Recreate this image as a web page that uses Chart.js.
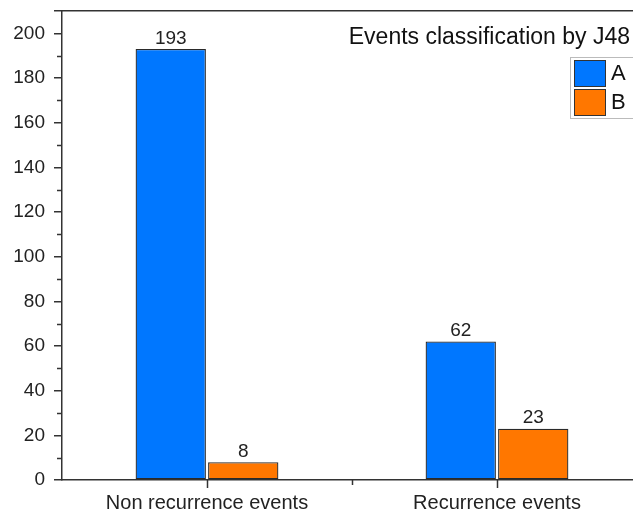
<!DOCTYPE html>
<html>
<head>
<meta charset="utf-8">
<script src="https://cdn.jsdelivr.net/npm/chart.js@4"></script>
<style>
  html, body { margin: 0; padding: 0; overflow: hidden; background: #fff; }
  #wrap { width: 650px; height: 516px; }
</style>
</head>
<body>
<div id="wrap"><canvas id="chart" width="650" height="516"></canvas></div>
<script>
// chart data
const categories = ['Non recurrence events', 'Recurrence events']
const seriesA = [193, 62]
const seriesB = [8, 23]
const titleText = 'Events classification by J48'

Chart.defaults.font.family = '"Liberation Sans", Arial, sans-serif'
Chart.defaults.color = '#222222'

const axisColor = '#333333'

// value labels on top of bars, title, legend box and x/minor ticks
const extras = {
    id: 'extras',
    afterDatasetsDraw(chart) {
        const ctx = chart.ctx
        const area = chart.chartArea
        const y = chart.scales.y
        const x = chart.scales.x
        ctx.save()
        ctx.fillStyle = '#222'
        ctx.font = '19px "Liberation Sans", Arial, sans-serif'
        ctx.textAlign = 'center'
        ctx.textBaseline = 'bottom'
        chart.data.datasets.forEach((ds, i) => {
            chart.getDatasetMeta(i).data.forEach((bar, j) => {
                ctx.fillText(ds.data[j], bar.x, bar.y - 1)
            })
        })

        // ticks
        ctx.strokeStyle = axisColor
        ctx.lineWidth = 1.5
        for (let v = 10; v <= 200; v += 20) {
            const py = Math.round(y.getPixelForValue(v)) + 0.5
            ctx.beginPath()
            ctx.moveTo(area.left - 5, py)
            ctx.lineTo(area.left, py)
            ctx.stroke()
        }
        for (let k = 0; k < categories.length; k++) {
            const pc = Math.round(x.getPixelForValue(k)) + 0.5
            ctx.beginPath()
            ctx.moveTo(pc, area.bottom)
            ctx.lineTo(pc, area.bottom + 8)
            ctx.stroke()
            const pm = Math.round(x.getPixelForValue(k + 0.5)) + 0.5
            ctx.beginPath()
            ctx.moveTo(pm, area.bottom)
            ctx.lineTo(pm, area.bottom + 5)
            ctx.stroke()
        }

        // title
        ctx.font = '23px "Liberation Sans", Arial, sans-serif'
        ctx.textAlign = 'right'
        ctx.textBaseline = 'middle'
        ctx.fillStyle = '#111'
        ctx.fillText(titleText, 630, 38)

        // legend
        const lx = 570, ly = 57, lw = 70, lh = 61
        ctx.fillStyle = '#fff'
        ctx.fillRect(lx, ly, lw, lh)
        ctx.strokeStyle = '#bbbbbb'
        ctx.lineWidth = 1
        ctx.strokeRect(lx + 0.5, ly + 0.5, lw, lh)
        chart.data.datasets.forEach((ds, i) => {
            const by = ly + 3 + i * 29
            ctx.fillStyle = ds.backgroundColor
            ctx.fillRect(lx + 4, by, 32, 27)
            ctx.strokeStyle = '#333'
            ctx.strokeRect(lx + 4.5, by + 0.5, 31, 26)
            ctx.fillStyle = '#111'
            ctx.font = '22px "Liberation Sans", Arial, sans-serif'
            ctx.textAlign = 'left'
            ctx.fillText(ds.label, lx + 41, by + 14)
        })
        ctx.restore()
    }
}

new Chart(document.getElementById('chart'), {
    type: 'bar',
    data: {
        labels: categories,
        datasets: [
            {
                label: 'A',
                data: seriesA,
                backgroundColor: '#0077ff',
                borderColor: '#2a2a2a',
                borderWidth: 1.3,
                borderSkipped: false
            },
            {
                label: 'B',
                data: seriesB,
                backgroundColor: '#ff7700',
                borderColor: '#2a2a2a',
                borderWidth: 1.3,
                borderSkipped: false
            }
        ]
    },
    options: {
        responsive: false,
        animation: false,
        layout: { padding: { top: 11, right: 8, left: 0, bottom: 0 } },
        datasets: {
            bar: { categoryPercentage: 0.5, barPercentage: 0.97 }
        },
        plugins: {
            legend: { display: false },
            tooltip: { enabled: false }
        },
        scales: {
            x: {
                afterFit(scale) {
                    scale.height = 36
                    scale.paddingLeft = 0
                    scale.paddingRight = 0
                },
                border: { display: true, color: axisColor, width: 1.5 },
                grid: { display: false },
                ticks: { font: { size: 20 }, color: '#222', padding: 3, maxRotation: 0 }
            },
            y: {
                min: 0,
                max: 210,
                afterFit(scale) {
                    scale.width = 62
                    scale.paddingTop = 0
                    scale.paddingBottom = 0
                },
                border: { display: true, color: axisColor, width: 1.5 },
                grid: { display: true, drawOnChartArea: false, tickLength: 8, color: axisColor, lineWidth: 1.5 },
                ticks: {
                    stepSize: 20,
                    font: { size: 19 },
                    color: '#222',
                    padding: 9,
                    callback: (v) => (v % 20 === 0 && v <= 200 ? v : '')
                }
            },
            xTop: {
                position: 'top',
                type: 'category',
                labels: categories,
                afterFit(scale) { scale.height = 0 },
                border: { display: true, color: axisColor, width: 1.5 },
                grid: { display: false },
                ticks: { display: false }
            },
            yRight: {
                position: 'right',
                min: 0,
                max: 210,
                afterFit(scale) { scale.width = 0 },
                border: { display: true, color: axisColor, width: 1.5 },
                grid: { display: false },
                ticks: { display: false }
            }
        }
    },
    plugins: [extras]
})
</script>
</body>
</html>
